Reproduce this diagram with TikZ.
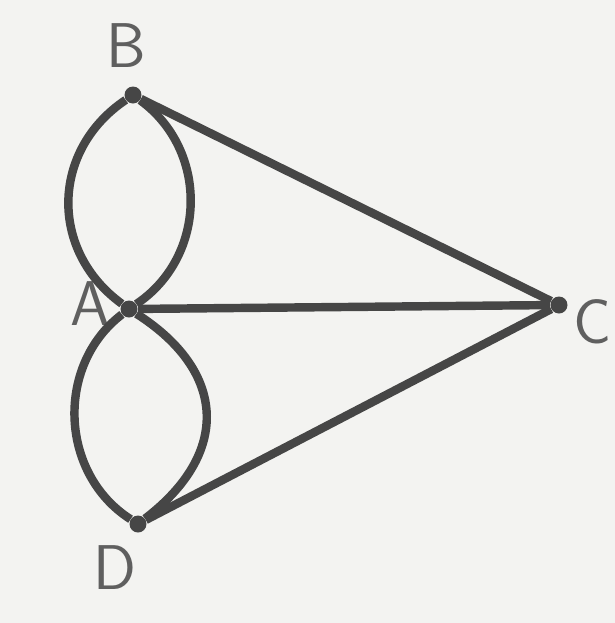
\documentclass[tikz,border=0pt]{standalone}
\usepackage{fontspec}

\definecolor{paper}{RGB}{243, 243, 241}
\definecolor{pencil}{RGB}{70, 70, 70}
\definecolor{inkletter}{RGB}{95, 95, 95}

\tikzset{
	vertex/.style={circle, fill=pencil, inner sep=0pt, minimum size=0.34cm},
	bridge/.style={draw=pencil, line width=4.8pt},
	letter/.style={text=inkletter, font=\sffamily\fontsize{36}{36}\selectfont}
}

\begin{document}
\begin{tikzpicture}[x=0.02cm, y=-0.02cm]
		
		% Papier (Hintergrund)
		\fill[paper] (0,0) rectangle (615,623);
		\useasboundingbox (0,0) rectangle (615,623);
		
		% Knoten (Landteile)
		\node[vertex] (B) at (133, 95) {};
		\node[vertex] (A) at (129, 309) {};
		\node[vertex] (C) at (559, 305) {};
		\node[vertex] (D) at (138, 524) {};
		
		% Beschriftung
		\node[letter] (lB) at (126, 46) {B};
		\node[letter] (lA) at (90, 304) {A};
		\node[letter] (lC) at (593, 322) {C};
		\node[letter] (lD) at (115, 568) {D};
		
		% Bruecken zwischen B und A
		\draw[bridge] (B) to[bend right=55, looseness=1.13] (A);
		\draw[bridge] (B) to[bend left=55, looseness=1.07] (A);
		
		% Bruecken zwischen A und D
		\draw[bridge] (A) to[bend right=55, looseness=1.05] (D);
		\draw[bridge] (A) to[bend left=55, looseness=1.34] (D);
		
		% Bruecken nach C
		\draw[bridge] (B) -- (C);
		\draw[bridge] (A) -- (C);
		\draw[bridge] (D) -- (C);
		
	\end{tikzpicture}
\end{document}
